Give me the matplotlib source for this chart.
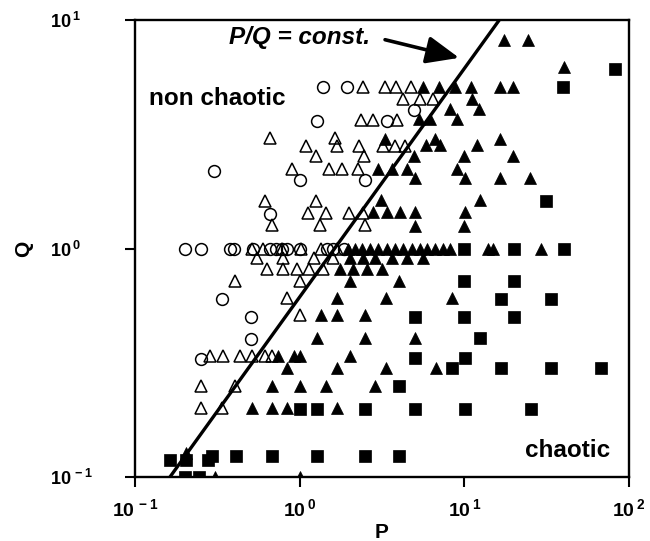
import numpy as np
import matplotlib
matplotlib.use('Agg')
import matplotlib.pyplot as plt

plt.rcParams['font.family'] = ['Liberation Sans', 'DejaVu Sans']
plt.rcParams['mathtext.fontset'] = 'custom'
plt.rcParams['mathtext.bf'] = 'Liberation Sans:bold'
plt.rcParams['mathtext.rm'] = 'Liberation Sans:bold'

# open circles
oc_P = [1.38, 1.95, 4.94, 1.28, 3.37, 0.30, 1.0, 2.5, 0.66,
        0.20, 0.25, 0.377, 0.40, 0.52, 0.66, 0.72, 0.78, 0.84, 1.0, 1.47, 1.6, 1.85,
        0.336, 0.504, 0.504, 0.252]
oc_Q = [5.1, 5.1, 4.05, 3.6, 3.6, 2.18, 2.0, 2.0, 1.41,
        1, 1, 1, 1, 1, 1, 1, 1, 1, 1, 1, 1, 1,
        0.60, 0.50, 0.40, 0.33]

# open triangles
ot_P = [2.44, 3.31, 3.86, 4.73,
        4.26, 5.38, 6.44,
        2.36, 2.79, 3.88,
        0.665, 1.65,
        1.10, 1.69, 2.30, 3.21, 3.79, 4.37,
        1.26, 2.47,
        0.90, 1.51, 1.81, 2.27,
        0.62, 1.26,
        1.13, 1.44, 2.0, 2.43,
        0.68, 1.33, 2.51,
        0.51, 0.60, 0.78, 1.02, 1.34, 1.69,
        0.55, 0.79, 1.22, 1.60,
        0.63, 0.79, 0.96, 1.14, 1.39,
        0.405, 1.0,
        0.84,
        1.01,
        0.285, 0.344, 0.434, 0.511, 0.616, 0.676,
        0.253, 0.405,
        0.253, 0.339]
ot_Q = [5.1] * 4 + [4.5] * 3 + [3.65] * 3 + [3.06] * 2 + [2.82] * 6 + [2.53] * 2 \
    + [2.23] * 4 + [1.62] * 2 + [1.43] * 4 + [1.27] * 3 + [1.0] * 6 + [0.91] * 4 \
    + [0.81] * 5 + [0.72] * 2 + [0.61] + [0.51] + [0.34] * 6 + [0.25] * 2 + [0.20] * 2

# filled triangles
ft_P = [17.4, 24.4,
        40.3,
        5.63, 7.0, 8.77, 11.0, 16.5, 19.7,
        11.1,
        8.18, 12.3,
        5.28, 6.23, 9.07,
        3.30, 6.6, 16.4,
        5.87, 7.11, 11.9,
        4.98, 9.97, 19.8,
        3.0, 3.62, 4.46, 8.97,
        5.0, 10.1, 16.4, 25.0,
        3.12, 12.4,
        2.80, 3.37, 4.06, 5.01, 10.1,
        5.01, 10.0,
        1.97, 2.17, 2.39, 2.67, 3.0, 3.37, 3.79, 4.26, 4.79, 5.38, 5.93, 6.63, 7.41, 8.18,
        14.0, 15.0, 29.4,
        2.02, 2.43, 2.87, 3.62, 4.46, 5.58,
        1.76, 2.12, 2.55, 3.15,
        2.02, 4.01,
        1.68, 3.34, 8.37,
        1.34, 1.68, 2.51,
        1.27, 2.51, 5.0,
        0.74, 0.92, 1.0, 2.02,
        0.84, 1.68, 3.34, 6.7,
        0.676, 1.01, 1.44, 2.87,
        0.511, 0.676, 0.834, 1.68,
        0.203,
        0.306, 1.01]
ft_Q = [8.2] * 2 + [6.2] + [5.1] * 6 + [4.5] + [4.08] * 2 + [3.67] * 3 + [3.02] * 3 \
    + [2.84] * 3 + [2.53] * 3 + [2.23] * 4 + [2.04] * 4 + [1.63] * 2 + [1.44] * 5 \
    + [1.25] * 2 + [1.0] * 17 + [0.91] * 6 + [0.81] * 4 + [0.72] * 2 + [0.61] * 3 \
    + [0.51] * 3 + [0.405] * 3 + [0.34] * 4 + [0.30] * 4 + [0.25] * 4 + [0.20] * 4 \
    + [0.128] + [0.1] * 2

# filled squares
sq_P = [82.2, 39.5, 31.3,
        10.0, 20.0, 40.3,
        10.0, 19.9,
        16.8, 33.4,
        5.0, 10.0, 20.0,
        12.5,
        5.0, 10.1,
        8.37, 16.8, 33.4, 67.3,
        4.03,
        1.01, 1.27, 2.49, 5.0, 10.1, 25.3,
        0.292, 0.41, 0.676, 1.27, 2.49, 4.03,
        0.163, 0.205, 0.277,
        0.20, 0.245]
sq_Q = [6.13, 5.1, 1.62] + [1.0] * 3 + [0.72] * 2 + [0.60] * 2 + [0.50] * 3 + [0.405] \
    + [0.333] * 2 + [0.30] * 4 + [0.249] + [0.198] * 6 + [0.123] * 6 + [0.119] * 3 + [0.1] * 2

# P/Q = const. line
pq_const = 1.63
line_Q = np.array([0.1, 10.0])
line_P = pq_const * line_Q

x_ticks = [0.1, 1, 10, 100]
y_ticks = [0.1, 1, 10]
exps_x = ['-1', '0', '1', '2']
exps_y = ['-1', '0', '1']

fig = plt.figure(figsize=(6.5, 5.41), dpi=100)
ax = fig.add_axes([0.2077, 0.1183, 0.76, 0.8447])

ax.plot(oc_P, oc_Q, 'o', ms=8.5, mfc='none', mec='black', mew=1.1, ls='none')
ax.plot(ot_P, ot_Q, '^', ms=9, mfc='none', mec='black', mew=1.1, ls='none')
ax.plot(ft_P, ft_Q, '^', ms=9, mfc='black', mec='black', mew=0.5, ls='none')
ax.plot(sq_P, sq_Q, 's', ms=9, mfc='black', mec='black', mew=0.5, ls='none')
ax.plot(line_P, line_Q, '-', color='black', lw=2.4, zorder=5)

ax.set_xscale('log')
ax.set_yscale('log')
ax.set_xlim(0.1, 100)
ax.set_ylim(0.1, 10)
ax.minorticks_off()
ax.set_xticks(x_ticks)
ax.set_yticks(y_ticks)
ax.set_xticklabels([r'$\mathbf{10^{\,%s}}$' % e for e in exps_x], fontsize=14)
ax.set_yticklabels([r'$\mathbf{10^{\,%s}}$' % e for e in exps_y], fontsize=13)
ax.tick_params(axis='x', direction='out', length=7, width=1.5, pad=8)
ax.tick_params(axis='y', direction='out', length=7, width=1.5, pad=54)
for lab in ax.get_yticklabels():
    lab.set_horizontalalignment('left')
for sp in ax.spines.values():
    sp.set_linewidth(1.7)

ax.set_xlabel('P', fontsize=15, fontweight='bold')
ax.set_ylabel('Q', fontsize=15, fontweight='bold')
ax.xaxis.set_label_coords(0.5, -0.10)
ax.yaxis.set_label_coords(-0.206, 0.5)

ax.text(0.028, 0.814, 'non chaotic', transform=ax.transAxes, fontsize=17.5,
        fontweight='bold', ha='left', va='baseline')
ax.text(0.9615, 0.044, 'chaotic', transform=ax.transAxes, fontsize=17.5,
        fontweight='bold', ha='right', va='baseline')
ax.text(0.191, 0.9475, 'P/Q = const.', transform=ax.transAxes, fontsize=17.5,
        fontweight='bold', style='italic', ha='left', va='baseline')
ax.annotate('', xy=(9.3, 6.83), xytext=(3.3, 8.2),
            arrowprops=dict(arrowstyle='-|>,head_length=1.0,head_width=0.42',
                            mutation_scale=20, lw=2.6, color='black',
                            shrinkA=0, shrinkB=0))

fig.savefig('out.png', dpi=100)
